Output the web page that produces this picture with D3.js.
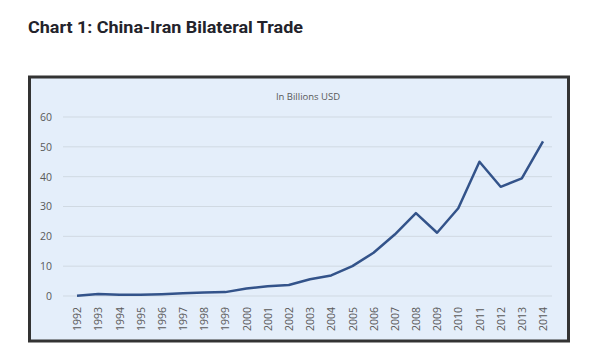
<!DOCTYPE html>
<html><head><meta charset="utf-8">
<script src="https://cdn.jsdelivr.net/npm/d3@7"></script>
<style>
html,body{margin:0;padding:0;background:#fff;}
svg{display:block;}
</style></head>
<body>
<svg id="chart" width="609" height="363"></svg>
<script>
const years = ["1992","1993","1994","1995","1996","1997","1998","1999","2000","2001","2002","2003","2004","2005","2006","2007","2008","2009","2010","2011","2012","2013","2014"];
const trade = [0.1,0.7,0.4,0.4,0.6,0.9,1.2,1.3,2.5,3.3,3.7,5.6,6.9,10.0,14.5,20.6,27.8,21.2,29.4,45.0,36.6,39.4,51.8];
const yTicks = [0,10,20,30,40,50,60];
const titleText = "Chart 1: China-Iran Bilateral Trade";
const unitText = "In Billions USD";

const svg = d3.select("#chart");

svg.append("text")
  .attr("x", 28).attr("y", 33)
  .attr("font-family", "Roboto, 'Noto Sans', sans-serif")
  .attr("font-weight", 700)
  .attr("font-size", 17)
  .attr("fill", "#23232b")
  .attr("textLength", 275)
  .attr("lengthAdjust", "spacingAndGlyphs")
  .text(titleText);

// box
svg.append("rect")
  .attr("x", 29.5).attr("y", 77).attr("width", 539).attr("height", 264)
  .attr("fill", "#e4eefa")
  .attr("stroke", "#333")
  .attr("stroke-width", 3);

const x = d3.scalePoint().domain(years).range([77, 543]);
const y = d3.scaleLinear().domain([0, 60]).range([296, 117]);

// grid
svg.append("g").selectAll("line").data(yTicks).join("line")
  .attr("x1", 63).attr("x2", 552)
  .attr("y1", d => y(d)).attr("y2", d => y(d))
  .attr("stroke", "#d0d9e2").attr("stroke-width", 1);

// y axis
const yAxis = svg.append("g").attr("transform", "translate(52,0)")
  .call(d3.axisLeft(y).tickValues(yTicks).tickSize(0).tickPadding(0));
yAxis.select(".domain").remove();
yAxis.selectAll("text")
  .attr("font-family", "'Open Sans', sans-serif")
  .attr("font-size", 10.5)
  .attr("fill", "#595959");

// x axis
const xAxis = svg.append("g").attr("transform", "translate(0,302)")
  .call(d3.axisBottom(x).tickSize(0).tickPadding(0));
xAxis.select(".domain").remove();
xAxis.selectAll("text")
  .attr("font-family", "'Open Sans', sans-serif")
  .attr("font-size", 10.5)
  .attr("fill", "#595959")
  .attr("transform", "rotate(-90)")
  .attr("text-anchor", "start")
  .attr("x", -29)
  .attr("y", 0)
  .attr("dy", "0.35em");

// unit label
svg.append("text")
  .attr("x", 308).attr("y", 100)
  .attr("text-anchor", "middle")
  .attr("font-family", "'Open Sans', sans-serif")
  .attr("font-size", 9.5)
  .attr("fill", "#595959")
  .text(unitText);

// line
svg.append("path")
  .datum(trade)
  .attr("fill", "none")
  .attr("stroke", "#33538a")
  .attr("stroke-width", 2.5)
  .attr("stroke-linejoin", "round")
  .attr("d", d3.line().x((d, i) => x(years[i])).y(d => y(d)));
</script>
</body></html>
